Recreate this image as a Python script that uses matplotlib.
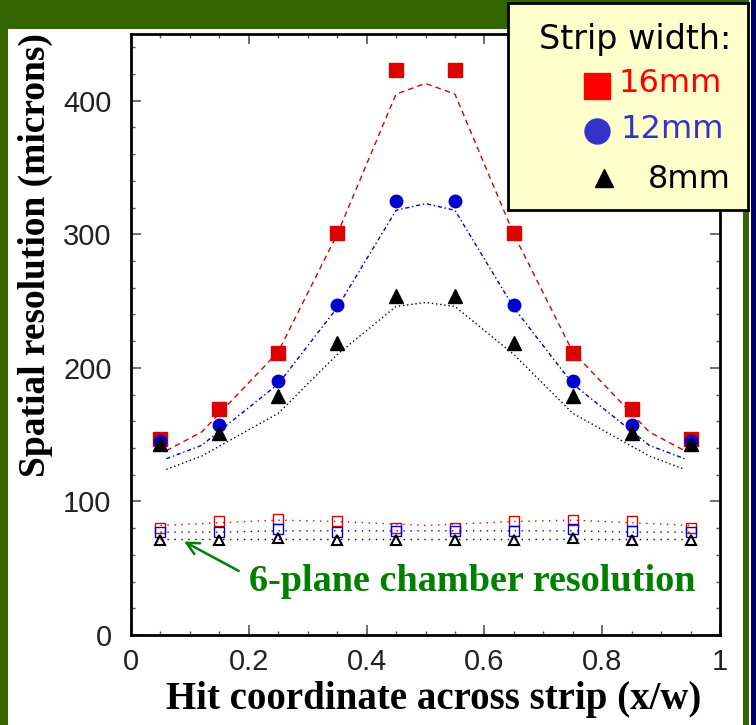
import numpy as np
import matplotlib
matplotlib.use('Agg')
import matplotlib.pyplot as plt
from matplotlib.patches import Rectangle
from matplotlib.ticker import MultipleLocator

# hit positions across the strip
x = [0.05, 0.15, 0.25, 0.35, 0.45, 0.55, 0.65, 0.75, 0.85, 0.95]

# single-plane resolution (filled markers)
res16 = [147, 169, 211, 301, 423, 423, 301, 211, 169, 147]
res12 = [145, 157, 190, 247, 325, 325, 247, 190, 157, 145]
res8 = [143, 151, 179, 219, 254, 254, 219, 179, 151, 143]

# 6-plane chamber resolution (open markers)
cham16 = [80, 85, 87, 85, 80, 80, 85, 86, 85, 80]
cham12 = [77, 77, 79, 77, 78, 78, 78, 79, 78, 77]
cham8 = [71, 71, 73, 71, 71, 71, 71, 73, 71, 71]

# fitted curves
fit_x = [0.06, 0.12, 0.25, 0.35, 0.45, 0.5, 0.55, 0.65, 0.75, 0.88, 0.94]
fit16 = [138, 152, 212, 300, 405, 413, 405, 300, 212, 152, 138]
fit12 = [132, 142, 188, 245, 318, 323, 318, 245, 188, 142, 132]
fit8 = [124, 134, 166, 210, 246, 249, 246, 210, 166, 134, 124]
cfit_x = [0.05, 0.15, 0.25, 0.35, 0.45, 0.5, 0.55, 0.65, 0.75, 0.85, 0.95]
cfit16 = [82, 84, 86, 85, 83, 82, 83, 85, 86, 84, 82]
cfit12 = [77, 77, 78, 78, 78, 78, 78, 78, 78, 77, 77]
cfit8 = [72, 72, 72, 72, 72, 72, 72, 72, 72, 72, 72]

RED = '#dd0000'
BLUE = '#0000cc'
GREEN = '#336600'

fig = plt.figure(figsize=(7.56, 7.25), dpi=100)
fig.patch.set_facecolor(GREEN)
W, H = 756., 725.

# white panel + right border strips
fig.patches.append(Rectangle((8 / W, 0), 735 / W, 1 - 29 / H, transform=fig.transFigure,
                             facecolor='white', edgecolor='none', zorder=-1))
fig.patches.append(Rectangle((749 / W, 0), 2 / W, 1, transform=fig.transFigure,
                             facecolor='white', edgecolor='none', zorder=-1))
fig.patches.append(Rectangle((751 / W, 0), 5 / W, 1, transform=fig.transFigure,
                             facecolor='#000066', edgecolor='none', zorder=-1))

ax = fig.add_axes([131 / W, 1 - 635 / H, 589 / W, (635 - 34) / H])
ax.set_facecolor('white')

ax.plot(fit_x, fit16, ls=(0, (4, 3)), color=RED, lw=1)
ax.plot(fit_x, fit12, ls=(0, (3, 2, 1, 2)), color=BLUE, lw=1)
ax.plot(fit_x, fit8, ls=(0, (1, 2)), color='black', lw=1)
ax.plot(cfit_x, cfit16, ls=(0, (1, 4)), color=RED, lw=1)
ax.plot(cfit_x, cfit12, ls=(0, (1, 4)), color=BLUE, lw=1)
ax.plot(cfit_x, cfit8, ls=(0, (1, 4)), color='black', lw=1)

ax.plot(x, res16, 's', color=RED, ms=10, ls='none')
ax.plot(x, res12, 'o', color=BLUE, ms=9, ls='none')
ax.plot(x, res8, '^', color='black', ms=10, ls='none')
ax.plot(x, cham16, 's', mfc='none', mec=RED, mew=1, ms=6.5, ls='none')
ax.plot(x, cham12, 's', mfc='none', mec=BLUE, mew=1, ms=6.5, ls='none')
ax.plot(x, cham8, '^', mfc='none', mec='black', mew=1.5, ms=6.5, ls='none')

ax.set_xlim(0, 1)
ax.set_ylim(0, 450)
ax.xaxis.set_major_locator(MultipleLocator(0.2))
ax.xaxis.set_minor_locator(MultipleLocator(0.05))
ax.yaxis.set_major_locator(MultipleLocator(100))
ax.yaxis.set_minor_locator(MultipleLocator(20))
ax.xaxis.set_major_formatter(plt.FuncFormatter(lambda v, p: '%g' % round(v, 2)))
ax.tick_params(which='both', direction='in', top=True, right=True, color='#555555')
ax.tick_params(which='major', length=7, width=1.2, labelsize=21, labelcolor='#222222',
               labelfontfamily='Liberation Sans')
ax.tick_params(axis='y', which='major', pad=14)
ax.tick_params(axis='x', which='major', pad=9)
ax.tick_params(which='minor', length=3, width=1)
for s in ax.spines.values():
    s.set_linewidth(2)

fig.text(35 / W, 1 - 255 / H, 'Spatial resolution (microns)', rotation=90, ha='center',
         va='center', family='Liberation Serif', weight='bold', fontsize=27)
fig.text(434 / W, 1 - 700 / H, 'Hit coordinate across strip (x/w)', ha='center',
         va='center', family='Liberation Serif', weight='bold', fontsize=28)

ax.annotate('6-plane chamber resolution', xy=(0.09, 70), xytext=(0.2, 40),
            color='#008000', family='Liberation Serif', weight='bold', fontsize=27.5,
            va='center', ha='left',
            arrowprops=dict(arrowstyle='->', color='#008000', lw=1.8, relpos=(0, 0.65),
                            mutation_scale=22, shrinkA=6, shrinkB=0))

# legend box
lg = fig.add_axes([508 / W, 1 - 210 / H, 240 / W, 207 / H])
lg.set_facecolor('#ffffcc')
lg.set_xlim(508, 748)
lg.set_ylim(210, 3)
lg.set_xticks([])
lg.set_yticks([])
for s in lg.spines.values():
    s.set_linewidth(2)
lg.text(635, 40, 'Strip width:', ha='center', va='center', fontsize=24, family='DejaVu Sans')
lg.plot([597], [86], 's', color='#ff0000', ms=19)
lg.plot([597], [131], 'o', color='#3333cc', ms=18)
lg.plot([604], [178], '^', color='black', ms=13)
lg.text(618, 84, '16mm', color='#ff0000', va='center', fontsize=23, family='DejaVu Sans')
lg.text(620, 130, '12mm', color='#3333cc', va='center', fontsize=23, family='DejaVu Sans')
lg.text(648, 180, '8mm', color='black', va='center', fontsize=23, family='DejaVu Sans')

fig.savefig('out.png', dpi=100, facecolor=fig.get_facecolor())
